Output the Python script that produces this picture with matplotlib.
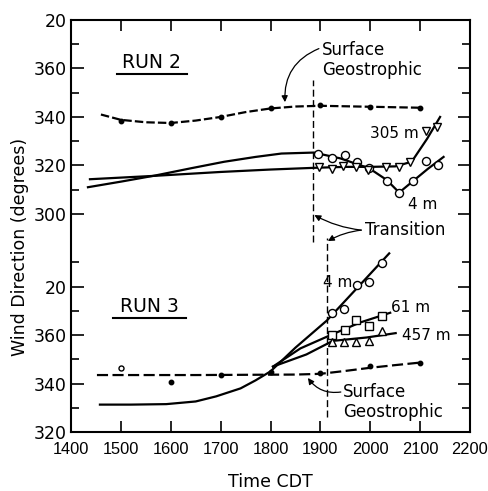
import numpy as np
import matplotlib
matplotlib.use("Agg")
import matplotlib.pyplot as plt
from matplotlib.ticker import FixedLocator

# ---------------------------------------------------------------------------
# Wind direction (degrees) versus time (CDT) for two runs, stacked on one
# vertical axis. Run 3 values are unwrapped past 360 (e.g. 380 = 20 deg).
# ---------------------------------------------------------------------------

# Run 2 - surface geostrophic direction (smoothed curve and observations)
run2_geo_x = [1460, 1500, 1550, 1600, 1650, 1700, 1750, 1800, 1850, 1900, 2000, 2100]
run2_geo_v = [341.0, 338.8, 337.8, 337.5, 338.5, 340.0, 342.0, 343.5, 344.3, 344.6, 344.2, 343.8]
run2_geo_obs_x = [1500, 1600, 1700, 1800, 1900, 2000, 2100]
run2_geo_obs_v = [338.5, 337.5, 340.0, 343.7, 344.9, 344.0, 343.7]

# Run 2 - 4 m level
run2_4m_x = [1434, 1500, 1568, 1640, 1707, 1770, 1822, 1887, 1940, 1998, 2033, 2058, 2085, 2115, 2147]
run2_4m_v = [311.0, 313.3, 315.8, 318.8, 321.5, 323.5, 324.9, 325.3, 322.9, 318.8, 314.0, 308.8, 313.4, 318.5, 323.5]
run2_4m_obs_x = [1896, 1923, 1949, 1973, 1998, 2033, 2058, 2085, 2111, 2135]
run2_4m_obs_v = [324.6, 322.9, 324.2, 321.5, 318.8, 313.6, 308.8, 313.6, 321.8, 320.1]

# Run 2 - 305 m level
run2_305m_x = [1438, 1568, 1700, 1800, 1887, 1950, 2000, 2050, 2083, 2114, 2140]
run2_305m_v = [314.3, 315.7, 317.3, 318.3, 319.0, 319.4, 319.4, 319.6, 321.5, 331.0, 340.0]
run2_305m_obs_x = [1897, 1923, 1946, 1971, 1996, 2031, 2057, 2080, 2112, 2134]
run2_305m_obs_v = [319.5, 318.5, 319.9, 319.5, 318.1, 319.5, 319.5, 321.5, 334.4, 335.9]

# Run 3 - surface geostrophic direction
run3_geo_x = [1452, 1550, 1650, 1750, 1850, 1900, 1950, 2000, 2050, 2098]
run3_geo_v = [343.5, 343.5, 343.5, 343.6, 343.7, 344.0, 345.2, 346.5, 347.6, 348.6]
run3_geo_obs_x = [1500, 1600, 1700, 1800, 1900, 2000, 2100]
run3_geo_obs_v = [346.5, 340.5, 343.7, 344.9, 344.2, 347.2, 348.6]

# Run 3 - 4 m, 61 m and 457 m levels
run3_4m_x = [1458, 1520, 1591, 1650, 1691, 1740, 1770, 1800, 1850, 1913, 1970, 2038]
run3_4m_v = [331.3, 331.3, 331.5, 332.6, 334.7, 338.0, 341.3, 345.0, 354.8, 366.0, 378.6, 393.7]
run3_4m_obs_x = [1923, 1947, 1973, 1998, 2023]
run3_4m_obs_v = [369.2, 370.8, 380.6, 382.0, 389.6]

run3_61m_x = [1805, 1860, 1925, 1980, 2040]
run3_61m_v = [347.0, 354.5, 360.4, 365.2, 369.2]
run3_61m_obs_x = [1923, 1949, 1971, 1998, 2023]
run3_61m_obs_v = [360.1, 362.1, 366.4, 363.6, 367.8]

run3_457m_x = [1805, 1872, 1925, 1993, 2051]
run3_457m_v = [347.0, 352.0, 357.6, 359.0, 360.8]
run3_457m_obs_x = [1923, 1947, 1971, 1997, 2023]
run3_457m_obs_v = [357.0, 357.0, 357.0, 357.6, 361.8]

# Transition times
run2_transition = 1886
run3_transition = 1914

# Axis tick values
x_ticks = [1400, 1500, 1600, 1700, 1800, 1900, 2000, 2100, 2200]
run3_major = [320, 340, 360, 380]
run3_minor = [330, 350, 370, 390]
run2_major = [300, 320, 340, 360, 380]
run2_minor = [310, 330, 350, 370]

# Each run's degrees are shifted onto a common vertical coordinate
RUN3_SHIFT = -320
RUN2_SHIFT = -210


def r2(v):
    return np.asarray(v, dtype=float) + RUN2_SHIFT


def r3(v):
    return np.asarray(v, dtype=float) + RUN3_SHIFT


def deg_label(d):
    return str(int(d) if d <= 360 else int(d) - 360)


plt.rcParams['font.family'] = ['DejaVu Sans']

fig = plt.figure(figsize=(4.88, 4.91), dpi=100)
ax = fig.add_axes([71 / 488, 59 / 491, 399 / 488, 412 / 491])

lw = 1.6
k = 'black'

# ---- Run 2 ----
ax.plot(run2_geo_x, r2(run2_geo_v), color=k, lw=lw, dashes=(3.8, 1.4))
ax.plot(run2_geo_obs_x, r2(run2_geo_obs_v), 'o', color=k, ms=3.2, ls='none')
ax.plot(run2_4m_x, r2(run2_4m_v), color=k, lw=lw)
ax.plot(run2_305m_x, r2(run2_305m_v), color=k, lw=lw)
ax.plot(run2_4m_obs_x, r2(run2_4m_obs_v), 'o', mfc='white', mec=k, mew=1.0, ms=5.8, ls='none')
ax.plot(run2_305m_obs_x, r2(run2_305m_obs_v), 'v', mfc='white', mec=k, mew=1.0, ms=5.5, ls='none')

# ---- Run 3 ----
ax.plot(run3_geo_x, r3(run3_geo_v), color=k, lw=lw, dashes=(5, 2))
ax.plot(run3_geo_obs_x[1:], r3(run3_geo_obs_v[1:]), 'o', color=k, ms=3.2, ls='none')
ax.plot(run3_geo_obs_x[:1], r3(run3_geo_obs_v[:1]), 'o', mfc='white', mec=k, mew=1.0, ms=3.6, ls='none')
ax.plot(run3_4m_x, r3(run3_4m_v), color=k, lw=lw)
ax.plot(run3_61m_x, r3(run3_61m_v), color=k, lw=lw)
ax.plot(run3_457m_x, r3(run3_457m_v), color=k, lw=lw)
ax.plot(run3_4m_obs_x, r3(run3_4m_obs_v), 'o', mfc='white', mec=k, mew=1.0, ms=5.8, ls='none')
ax.plot(run3_61m_obs_x, r3(run3_61m_obs_v), 's', mfc='white', mec=k, mew=1.0, ms=5.2, ls='none')
ax.plot(run3_457m_obs_x, r3(run3_457m_obs_v), '^', mfc='white', mec=k, mew=1.0, ms=5.5, ls='none')

# ---- Transition lines ----
ax.plot([run2_transition, run2_transition], [78.4, 145.2], color=k, lw=1.0, dashes=(5, 2.5))
ax.plot([run3_transition, run3_transition], [6.2, 80.0], color=k, lw=1.0, dashes=(5, 2.5))

# ---- Axes ----
ax.set_xlim(1400, 2200)
ax.set_ylim(0, 170)
ax.set_xticks(x_ticks)
ax.set_xticklabels([str(t) for t in x_ticks])

major_u = list(r3(run3_major)) + list(r2(run2_major))
major_lab = [deg_label(d) for d in run3_major + run2_major]
minor_u = list(r3(run3_minor)) + list(r2(run2_minor))
ax.yaxis.set_major_locator(FixedLocator(major_u))
ax.set_yticklabels(major_lab)
ax.yaxis.set_minor_locator(FixedLocator(minor_u))

for lab in ax.get_yticklabels():
    lab.set_fontsize(12.5)
for lab in ax.get_xticklabels():
    lab.set_fontfamily(['Liberation Sans', 'DejaVu Sans'])
    lab.set_fontsize(11.8)

ax.tick_params(axis='both', which='both', direction='in', top=True, right=True, width=1.2, colors=k)
ax.tick_params(axis='y', which='major', length=9, pad=3)
ax.tick_params(axis='y', which='minor', length=6)
ax.tick_params(axis='x', which='major', length=8, pad=7)

for s in ax.spines.values():
    s.set_linewidth(1.5)

ax.set_xlabel('Time CDT', fontsize=12.5)
ax.xaxis.set_label_coords(0.5, -0.100)
ax.set_ylabel('Wind Direction (degrees)', fontsize=12.5)
ax.yaxis.set_label_coords(-0.105, 0.45)

# ---- Annotations ----
txt = dict(fontsize=12, color=k)
lbl = dict(fontsize=11, color=k)
ax.text(1562, 152.6, 'RUN 2', ha='center', va='center', fontsize=13.5)
ax.plot([1492, 1633], [147.7, 147.7], color=k, lw=1.5)
ax.text(1558, 51.6, 'RUN 3', ha='center', va='center', fontsize=13.5)
ax.plot([1484, 1631], [47.0, 47.0], color=k, lw=1.5)

ax.text(1903, 157.6, 'Surface', ha='left', va='center', **txt)
ax.text(1903, 149.3, 'Geostrophic', ha='left', va='center', **txt)
ax.annotate('', xy=(1829, 136.1), xytext=(1897, 158.2),
            arrowprops=dict(arrowstyle='-|>', color=k, lw=0.9, mutation_scale=9,
                            shrinkA=0, shrinkB=0, connectionstyle='arc3,rad=0.35'))

ax.text(1946, 16.5, 'Surface', ha='left', va='center', **txt)
ax.text(1946, 8.3, 'Geostrophic', ha='left', va='center', **txt)
ax.annotate('', xy=(1875, 22.3), xytext=(1941, 16.5),
            arrowprops=dict(arrowstyle='-|>', color=k, lw=0.9, mutation_scale=9,
                            shrinkA=0, shrinkB=0, connectionstyle='arc3,rad=-0.3'))

ax.text(1989, 83.3, 'Transition', ha='left', va='center', **txt)
for tgt in [(run2_transition + 2, 89.5), (run3_transition + 1, 78.8)]:
    ax.annotate('', xy=tgt, xytext=(1982, 83.3),
                arrowprops=dict(arrowstyle='-|>', color=k, lw=0.9, mutation_scale=9,
                                shrinkA=0, shrinkB=0,
                                connectionstyle='arc3,rad=-0.1' if tgt[1] > 83 else 'arc3,rad=0.1'))

ax.text(2000, 123.1, '305 m', ha='left', va='center', **lbl)
ax.text(2076, 94.0, '4 m', ha='left', va='center', **lbl)
ax.text(1905, 61.5, '4 m', ha='left', va='center', **lbl)
ax.text(2042, 51.2, '61 m', ha='left', va='center', **lbl)
ax.text(2064, 40.0, '457 m', ha='left', va='center', **lbl)

fig.savefig('out.png', dpi=100)
